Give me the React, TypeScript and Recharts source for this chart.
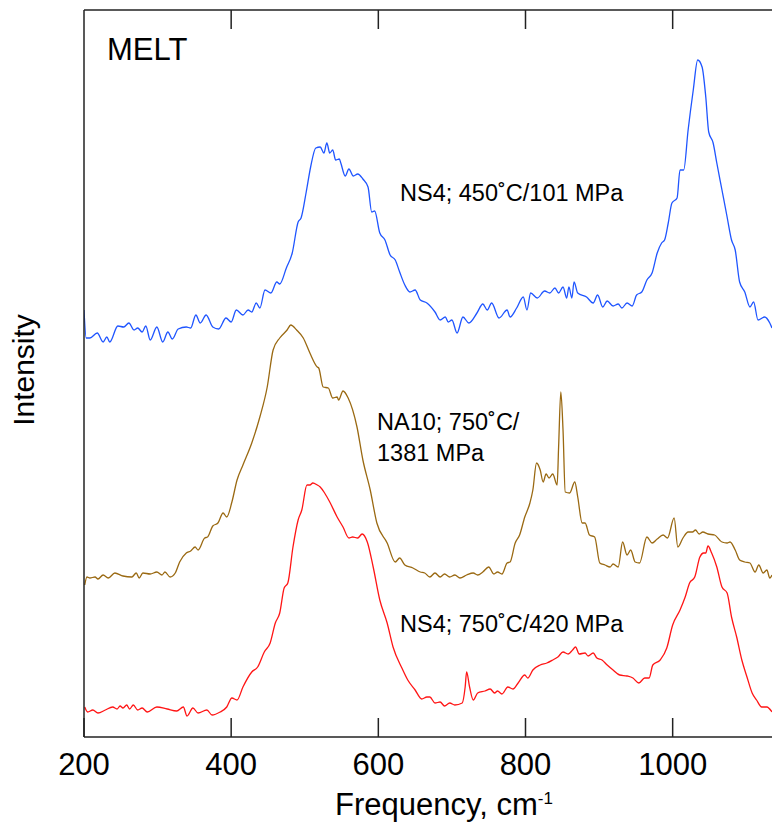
import React from "react";
import { LineChart, Line, XAxis, YAxis } from "recharts";

// Frequency (cm-1) and intensity (arbitrary, offset traces)
const blueFreq = [200,203,208,218,226,231,235,246,254,261,268,273,279,284,290,299,307,314,320,328,339,345,352,358,366,375,383,393,400,407,416,423,428,434,439,446,454,462,466,475,483,491,495,502,508,515,521,526,530,534,538,542,547,549,555,560,566,572,579,586,591,595,602,609,616,623,629,636,643,650,657,666,677,684,691,695,700,707,715,723,734,742,748,754,764,775,779,788,797,802,807,816,826,833,840,845,851,856,859,863,866,871,883,892,898,905,911,919,926,931,938,945,951,958,965,972,979,985,989,994,999,1006,1010,1015,1021,1028,1034,1040,1045,1049,1055,1060,1067,1074,1080,1085,1091,1098,1105,1110,1116,1125,1132,1135];
const blueInt = [427,399,399,404,395,400,395,411,410,414,407,409,405,411,397,410,395,405,398,408,410,409,422,414,422,410,408,419,415,427,422,427,425,434,429,447,444,455,453,469,484,515,519,545,570,589,590,584,594,584,587,577,578,574,561,568,561,563,558,550,525,526,504,497,482,477,465,452,445,447,437,434,425,417,420,415,417,404,420,414,424,433,427,434,419,427,420,429,440,427,444,439,446,444,449,444,450,439,450,439,455,444,440,434,442,430,436,431,433,429,434,431,442,445,457,464,484,494,497,514,534,539,567,567,607,647,677,670,640,605,594,574,547,520,497,487,455,445,430,435,417,420,414,409];

const brownFreq = [201,204,208,215,219,226,233,242,253,265,271,275,280,290,299,306,310,317,324,330,339,345,351,355,364,368,375,382,389,394,401,408,416,428,439,449,457,466,476,481,489,498,507,517,519,525,532,538,544,546,552,559,571,579,589,598,612,623,629,636,647,657,663,670,677,684,690,697,704,711,720,729,735,742,750,757,762,768,775,779,786,792,799,806,810,815,820,824,828,832,837,843,845,848,851,854,860,867,871,877,881,887,894,901,908,915,919,926,932,938,943,949,955,965,972,979,987,993,1002,1007,1014,1021,1027,1031,1036,1041,1048,1057,1067,1074,1078,1085,1091,1098,1105,1112,1117,1123,1128,1132,1135];
const brownInt = [152,160,159,160,158,162,159,164,161,160,164,159,164,163,165,162,165,160,164,175,184,186,190,187,199,200,211,214,224,220,235,257,272,294,320,350,387,399,407,412,407,399,384,370,369,350,349,339,340,337,346,339,310,277,247,214,194,175,179,172,169,165,164,160,164,160,163,160,162,159,162,164,162,165,170,163,165,163,174,175,194,202,220,234,247,274,267,255,263,259,263,252,290,345,307,245,244,255,240,214,214,202,200,174,172,170,173,170,195,182,187,175,174,200,194,198,202,199,219,190,199,205,205,207,203,205,203,202,195,194,195,187,177,175,174,165,172,164,167,159,162];

const redFreq = [201,205,212,219,229,239,245,249,253,258,262,267,273,279,286,299,313,326,335,340,348,355,367,374,385,394,401,408,416,428,436,445,453,460,466,472,477,484,491,496,503,507,511,517,521,527,534,544,552,560,565,572,578,585,593,602,612,620,632,640,650,659,666,670,677,684,690,697,704,714,718,720,724,729,735,745,752,758,762,768,776,783,790,799,803,810,820,829,837,844,851,858,864,868,873,881,885,892,897,904,911,919,928,938,946,954,962,968,973,983,992,1000,1010,1017,1023,1030,1037,1042,1045,1048,1053,1060,1067,1074,1080,1087,1094,1101,1108,1114,1121,1128,1135];
const redInt = [30,25,27,24,27,30,28,31,29,32,28,32,27,29,25,30,28,26,30,21,29,24,27,22,25,30,39,37,50,65,70,85,94,114,124,149,154,190,217,227,252,252,254,252,250,244,235,220,210,199,200,199,203,195,170,137,114,90,69,57,47,38,40,40,34,35,31,34,32,34,50,65,50,37,44,46,48,44,46,43,50,48,54,62,59,67,72,74,77,80,85,83,87,90,83,84,81,84,79,77,72,67,62,61,59,54,59,59,72,77,89,112,127,140,154,160,180,184,184,191,184,170,150,144,120,100,77,60,44,37,30,30,25];

const xTicks = [200, 400, 600, 800, 1000];
const topTicks = [400, 600, 800, 1000];
const xDomain = [200, 1135];
const yDomain = [0, 727];

const toPts = (f: number[], v: number[]) => f.map((x, i) => ({ f: x, v: v[i] }));
const blueData = toPts(blueFreq, blueInt);
const brownData = toPts(brownFreq, brownInt);
const redData = toPts(redFreq, redInt);

const FONT = "'Liberation Sans', Arial, Helvetica, sans-serif";
const AXIS = "#222";

const BottomTick = (props: any) => {
  const { x, y, payload } = props;
  return (
    <g>
      <line x1={x} x2={x} y1={y} y2={y - 19} stroke={AXIS} strokeWidth={1.5} />
      <text x={x} y={y + 38} textAnchor="middle" fontSize={31} fontFamily={FONT} fill="#000">
        {payload.value}
      </text>
    </g>
  );
};

const TopTick = (props: any) => {
  const { x, y } = props;
  return <line x1={x} x2={x} y1={y} y2={y + 19} stroke={AXIS} strokeWidth={1.5} />;
};

const XLabel = (props: any) => {
  const vb = props.viewBox || { x: 84, y: 737 };
  return (
    <text x={vb.x + 251} y={vb.y + 78} fontSize={31} fontFamily={FONT} fill="#000">
      Frequency, cm
      <tspan fontSize={17} dy={-11}>-1</tspan>
    </text>
  );
};

const YLabel = (props: any) => {
  const vb = props.viewBox || { x: 0, y: 10 };
  const cx = vb.x + 34;
  const cy = vb.y + 360;
  return (
    <text x={cx} y={cy} transform={`rotate(-90, ${cx}, ${cy})`} textAnchor="middle" fontSize={30} fontFamily={FONT} fill="#000">
      Intensity
    </text>
  );
};

export default function App() {
  return (
    <div style={{ position: "absolute", left: 0, top: 0, width: 772, height: 823, background: "#fff" }}>
      <LineChart width={772} height={823} margin={{ top: 0, right: 0, bottom: 0, left: 0 }}>
        <XAxis
          xAxisId="b"
          type="number"
          dataKey="f"
          domain={xDomain}
          ticks={xTicks}
          interval={0}
          allowDataOverflow
          height={86}
          tickSize={0}
          tickMargin={0}
          tickLine={false}
          tick={<BottomTick />}
          axisLine={{ stroke: AXIS, strokeWidth: 1.5 }}
          label={{ content: XLabel }}
        />
        <XAxis
          xAxisId="t"
          orientation="top"
          type="number"
          dataKey="f"
          domain={xDomain}
          ticks={topTicks}
          interval={0}
          allowDataOverflow
          height={10}
          tickSize={0}
          tickMargin={0}
          tickLine={false}
          tick={<TopTick />}
          axisLine={{ stroke: AXIS, strokeWidth: 1.5 }}
        />
        <YAxis
          type="number"
          domain={yDomain}
          allowDataOverflow
          width={84}
          tick={false}
          tickLine={false}
          axisLine={{ stroke: AXIS, strokeWidth: 1.5 }}
          label={{ content: YLabel }}
        />
        <Line xAxisId="b" data={blueData} dataKey="v" type="monotone" stroke="#1f55ff" strokeWidth={1.3} dot={false} isAnimationActive={false} />
        <Line xAxisId="b" data={brownData} dataKey="v" type="monotone" stroke="#9a6912" strokeWidth={1.3} dot={false} isAnimationActive={false} />
        <Line xAxisId="b" data={redData} dataKey="v" type="monotone" stroke="#ff1515" strokeWidth={1.3} dot={false} isAnimationActive={false} />
        <Line xAxisId="t" data={blueData} dataKey="v" stroke="none" dot={false} isAnimationActive={false} legendType="none" />
      </LineChart>
      <svg width={772} height={823} style={{ position: "absolute", left: 0, top: 0, pointerEvents: "none" }}>
        <g fontFamily={FONT} fill="#000">
          <text x={107} y={60} fontSize={31}>MELT</text>
          <text x={400} y={201} fontSize={23.5}>NS4; 450˚C/101 MPa</text>
          <text x={377} y={430} fontSize={23.5}>NA10; 750˚C/</text>
          <text x={377} y={461} fontSize={23.5}>1381 MPa</text>
          <text x={400} y={632} fontSize={23.5}>NS4; 750˚C/420 MPa</text>
        </g>
      </svg>
    </div>
  );
}
